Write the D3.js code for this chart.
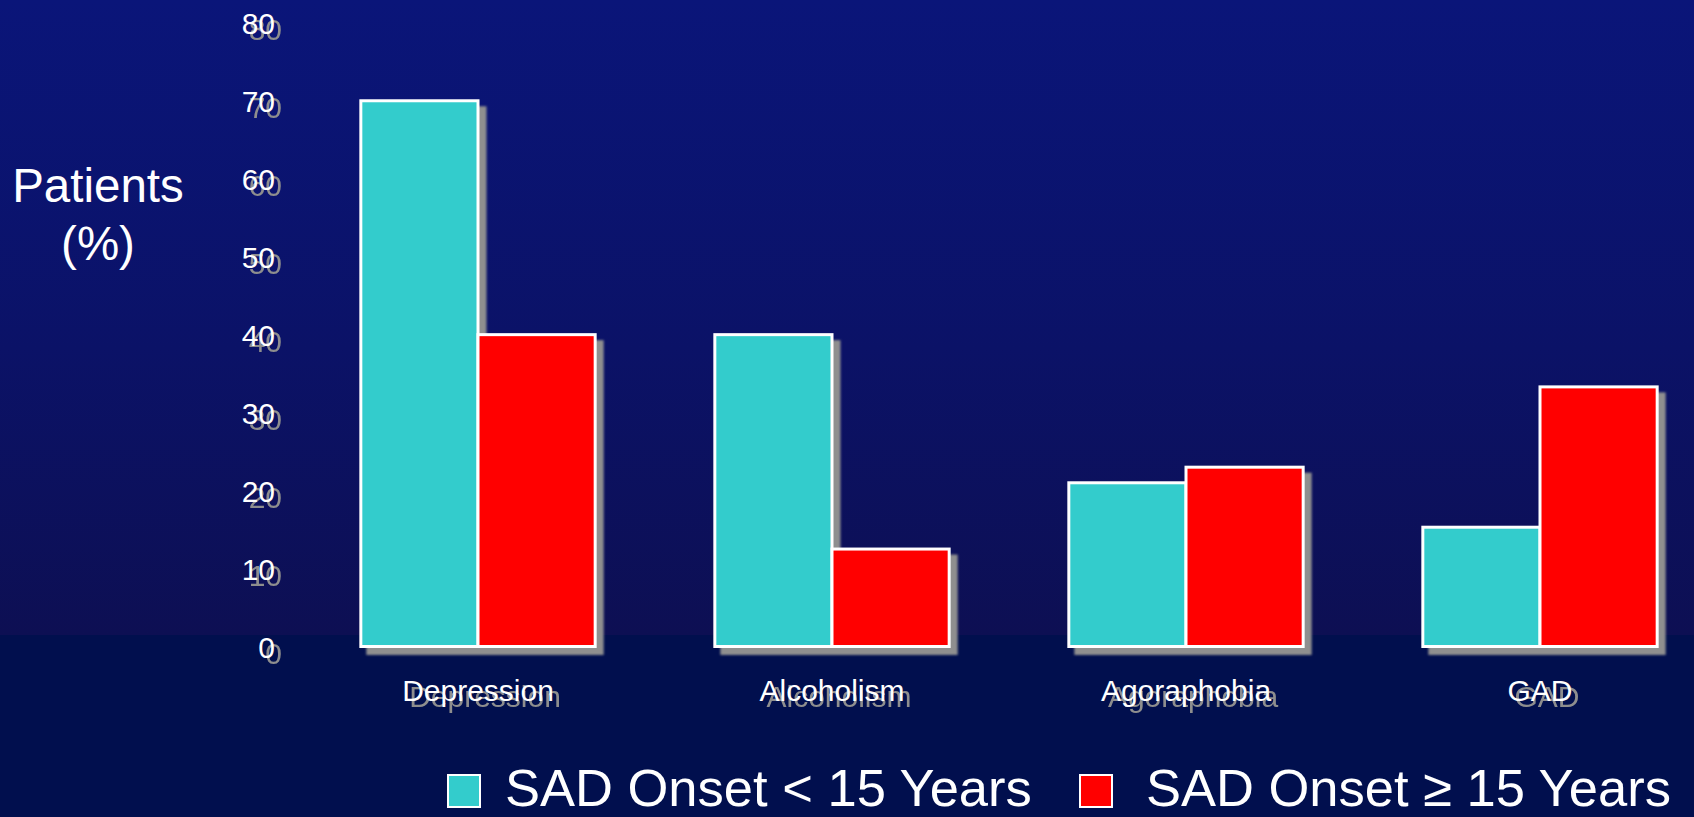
<!DOCTYPE html>
<html>
<head>
<meta charset="utf-8">
<script src="https://cdn.jsdelivr.net/npm/d3@7"></script>
<style>
  html, body { margin: 0; padding: 0; background: #010f4e; overflow: hidden; }
  svg { display: block; font-family: "Liberation Sans", Arial, Helvetica, sans-serif; }
</style>
</head>
<body>
<svg id="chart" width="1694" height="817"></svg>
<script>
// Comorbidity by age of social anxiety disorder onset
const categories = ["Depression", "Alcoholism", "Agoraphobia", "GAD"];
const seriesNames = ["SAD Onset < 15 Years", "SAD Onset \u2265 15 Years"];
const onsetUnder15 = [70, 40, 21, 15.3];
const onsetOver15 = [40, 12.5, 23, 33.3];
const seriesColors = ["#33cccc", "#ff0000"];
const yTicks = [0, 10, 20, 30, 40, 50, 60, 70, 80];
const yTitleLines = ["Patients", "(%)"];

const W = 1694, H = 817;
const svg = d3.select("#chart");
const defs = svg.append("defs");

// slide background: vertical gradient over the chart area, flat band below
const grad = defs.append("linearGradient")
  .attr("id", "bg").attr("x1", 0).attr("y1", 0).attr("x2", 0).attr("y2", 1);
grad.append("stop").attr("offset", 0).attr("stop-color", "#0a1579");
grad.append("stop").attr("offset", 0.55).attr("stop-color", "#0b1267");
grad.append("stop").attr("offset", 1).attr("stop-color", "#0d0f53");

const soft = defs.append("filter").attr("id", "soft")
  .attr("x", "-10%").attr("y", "-10%").attr("width", "120%").attr("height", "120%");
soft.append("feGaussianBlur").attr("stdDeviation", 1);
const softText = defs.append("filter").attr("id", "softText");
softText.append("feGaussianBlur").attr("stdDeviation", 0.6);

svg.append("rect").attr("x", 0).attr("y", 0).attr("width", W).attr("height", 635)
  .attr("fill", "url(#bg)");
svg.append("rect").attr("x", 0).attr("y", 635).attr("width", W).attr("height", H - 635)
  .attr("fill", "#010f4e");

// scales
const y = d3.scaleLinear().domain([0, 80]).range([646.5, 22.8]);
const x = d3.scaleBand().domain(categories).range([301, 1717])
  .paddingInner(0.338).paddingOuter(0.169);
const xSub = d3.scaleBand().domain([0, 1]).range([0, x.bandwidth()]);

const rows = categories.map((c, i) => ({ cat: c, vals: [onsetUnder15[i], onsetOver15[i]] }));
const bars = rows.flatMap(r => r.vals.map((v, s) => ({ cat: r.cat, s, v })));

const SHX = 7, SHY = 6;

// y axis tick labels (shadow copy, then white)
function yAxisLayer(dx, dy, fill, filter) {
  const g = svg.append("g")
    .attr("transform", `translate(${275 + dx},${dy})`)
    .call(d3.axisLeft(y).tickValues(yTicks).tickSize(0).tickPadding(0));
  g.select(".domain").remove();
  g.selectAll("text")
    .attr("fill", fill)
    .attr("font-size", 30)
    .attr("font-family", "\"Liberation Sans\", Arial, sans-serif")
    .attr("dy", "0.36em");
  if (filter) g.attr("filter", filter);
}
yAxisLayer(SHX, SHY, "#8e8e8e", "url(#softText)");
yAxisLayer(0, 0, "#ffffff", null);

// category labels (shadow copy, then white)
function xAxisLayer(dx, dy, fill, filter) {
  const g = svg.append("g")
    .attr("transform", `translate(${dx},${700.5 + dy})`)
    .call(d3.axisBottom(x).tickSize(0).tickPadding(0));
  g.select(".domain").remove();
  g.selectAll("text")
    .attr("fill", fill)
    .attr("font-size", 30)
    .attr("font-family", "\"Liberation Sans\", Arial, sans-serif")
    .attr("dy", 0)
    .attr("y", 0);
  if (filter) g.attr("filter", filter);
}
xAxisLayer(SHX, SHY, "#8e8e8e", "url(#softText)");
xAxisLayer(0, 0, "#ffffff", null);

// bar shadows
svg.append("g").attr("filter", "url(#soft)")
  .selectAll("rect").data(bars).join("rect")
  .attr("x", d => x(d.cat) + xSub(d.s) - 1.5 + SHX)
  .attr("y", d => y(d.v) - 1.5 + SHY + 1)
  .attr("width", xSub.bandwidth() + 3)
  .attr("height", d => y(0) - y(d.v) + 3)
  .attr("fill", "#8f8f8f");

// bars
svg.append("g")
  .selectAll("rect").data(bars).join("rect")
  .attr("x", d => x(d.cat) + xSub(d.s))
  .attr("y", d => y(d.v))
  .attr("width", xSub.bandwidth())
  .attr("height", d => y(0) - y(d.v))
  .attr("fill", d => seriesColors[d.s])
  .attr("stroke", "#ffffff")
  .attr("stroke-width", 3);

// y axis title
svg.append("text")
  .attr("x", 98).attr("y", 202)
  .attr("text-anchor", "middle")
  .attr("fill", "#ffffff")
  .attr("font-size", 47.5)
  .selectAll("tspan").data(yTitleLines).join("tspan")
  .attr("x", 98)
  .attr("dy", (d, i) => i === 0 ? 0 : 58)
  .text(d => d);

// legend
const legendX = [448, 1080];
const legendTextX = [505, 1146];
const legend = svg.append("g");
seriesNames.forEach((name, i) => {
  legend.append("rect")
    .attr("x", legendX[i]).attr("y", 775)
    .attr("width", 32).attr("height", 32)
    .attr("fill", seriesColors[i])
    .attr("stroke", "#ffffff").attr("stroke-width", 2);
  legend.append("text")
    .attr("x", legendTextX[i]).attr("y", 806)
    .attr("fill", "#ffffff")
    .attr("font-size", 52.5)
    .text(name);
});
</script>
</body>
</html>
